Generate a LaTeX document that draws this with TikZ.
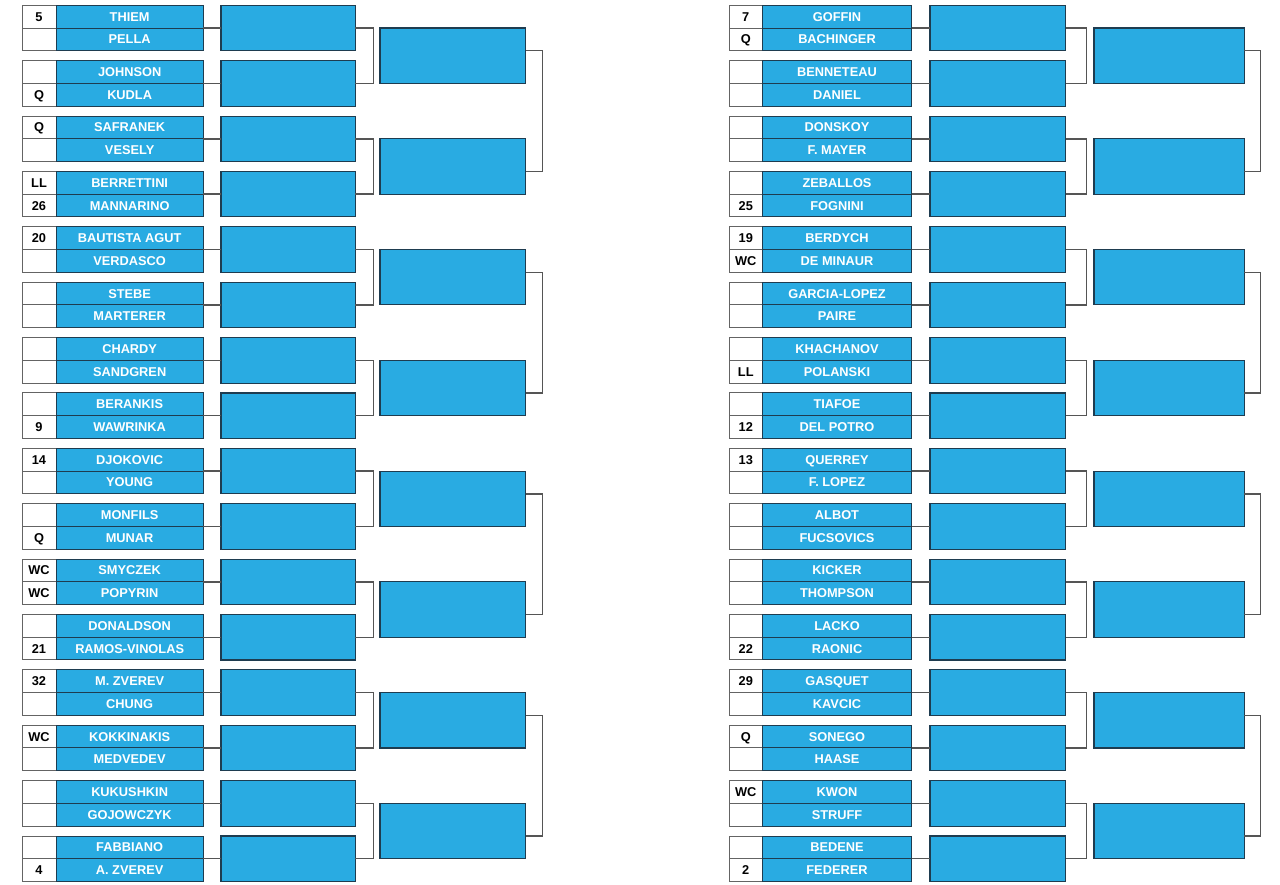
\documentclass[tikz,border=0pt]{standalone}
\usepackage{fontspec}
\setmainfont{Liberation Sans}
\definecolor{boxblue}{RGB}{41,171,226}
\definecolor{boxedge}{RGB}{30,60,80}
\definecolor{seededge}{RGB}{100,100,100}
\definecolor{connline}{RGB}{85,85,85}
\tikzset{
  namebox/.style={draw=boxedge, line width=1pt, fill=boxblue, text=white, font=\bfseries\fontsize{12.8}{12.8}\selectfont, inner sep=0pt, outer sep=0pt, minimum height=22.75pt, text height=9pt, text depth=0pt, anchor=north west},
  seedbox/.style={draw=seededge, line width=1pt, fill=white, text=black, font=\bfseries\fontsize{12.8}{12.8}\selectfont, inner sep=0pt, outer sep=0pt, minimum height=22.75pt, text height=9pt, text depth=0pt, anchor=north west},
  roundbox/.style={draw=boxedge, line width=1.1pt, fill=boxblue, inner sep=0pt, outer sep=0pt, anchor=north west},
  conn/.style={draw=connline, line width=1.4pt}
}
\def\geomL{\def\xs{22}\def\ws{34}\def\xn{56}\def\wn{147.3}\def\xr{221}\def\wr{134.3}}
\def\geomR{\def\xs{729.3}\def\ws{33}\def\xn{762.3}\def\wn{149.4}\def\xr{930}\def\wr{135.7}}
% #1 side, #2 index, #3 seed A, #4 name A, #5 seed B, #6 name B
\newcommand\mymatch[6]{%
  \csname geom#1\endcsname
  \pgfmathsetmacro\ytop{5.3+#2*55.38}%
  \pgfmathsetmacro\ymid{\ytop+22.75}%
  \node[seedbox, minimum width=\ws pt] (#1s#2a) at (\xs,\ytop) {#3};
  \node[seedbox, minimum width=\ws pt] (#1s#2b) at (\xs,\ymid) {#5};
  \node[namebox, minimum width=\wn pt] (#1n#2a) at (\xn,\ytop) {#4};
  \node[namebox, minimum width=\wn pt] (#1n#2b) at (\xn,\ymid) {#6};
  \node[roundbox, minimum width=\wr pt, minimum height=45.5pt] (#1r#2) at (\xr,\ytop) {};
  \draw[conn] (#1n#2a.south east) -- (#1r#2.west |- #1n#2a.south east);
}
\begin{document}
\begin{tikzpicture}[x=1pt,y=-1pt]
\useasboundingbox (0,0) rectangle (1280,885);
% left half
\mymatch{L}{0}{5}{THIEM}{}{PELLA}
\mymatch{L}{1}{}{JOHNSON}{Q}{KUDLA}
\mymatch{L}{2}{Q}{SAFRANEK}{}{VESELY}
\mymatch{L}{3}{LL}{BERRETTINI}{26}{MANNARINO}
\mymatch{L}{4}{20}{BAUTISTA AGUT}{}{VERDASCO}
\mymatch{L}{5}{}{STEBE}{}{MARTERER}
\mymatch{L}{6}{}{CHARDY}{}{SANDGREN}
\mymatch{L}{7}{}{BERANKIS}{9}{WAWRINKA}
\mymatch{L}{8}{14}{DJOKOVIC}{}{YOUNG}
\mymatch{L}{9}{}{MONFILS}{Q}{MUNAR}
\mymatch{L}{10}{WC}{SMYCZEK}{WC}{POPYRIN}
\mymatch{L}{11}{}{DONALDSON}{21}{RAMOS-VINOLAS}
\mymatch{L}{12}{32}{M. ZVEREV}{}{CHUNG}
\mymatch{L}{13}{WC}{KOKKINAKIS}{}{MEDVEDEV}
\mymatch{L}{14}{}{KUKUSHKIN}{}{GOJOWCZYK}
\mymatch{L}{15}{}{FABBIANO}{4}{A. ZVEREV}
% right half
\mymatch{R}{0}{7}{GOFFIN}{Q}{BACHINGER}
\mymatch{R}{1}{}{BENNETEAU}{}{DANIEL}
\mymatch{R}{2}{}{DONSKOY}{}{F. MAYER}
\mymatch{R}{3}{}{ZEBALLOS}{25}{FOGNINI}
\mymatch{R}{4}{19}{BERDYCH}{WC}{DE MINAUR}
\mymatch{R}{5}{}{GARCIA-LOPEZ}{}{PAIRE}
\mymatch{R}{6}{}{KHACHANOV}{LL}{POLANSKI}
\mymatch{R}{7}{}{TIAFOE}{12}{DEL POTRO}
\mymatch{R}{8}{13}{QUERREY}{}{F. LOPEZ}
\mymatch{R}{9}{}{ALBOT}{}{FUCSOVICS}
\mymatch{R}{10}{}{KICKER}{}{THOMPSON}
\mymatch{R}{11}{}{LACKO}{22}{RAONIC}
\mymatch{R}{12}{29}{GASQUET}{}{KAVCIC}
\mymatch{R}{13}{Q}{SONEGO}{}{HAASE}
\mymatch{R}{14}{WC}{KWON}{}{STRUFF}
\mymatch{R}{15}{}{BEDENE}{2}{FEDERER}
% third-round boxes and brackets
\foreach \k [evaluate=\k as \a using int(2*\k), evaluate=\k as \b using int(2*\k+1), evaluate=\k as \yq using 5.3+2*\k*55.38+22.75] in {0,...,7} {
  \node[roundbox, minimum width=145.7pt, minimum height=55.38pt] (Lq\k) at (380,\yq) {};
  \node[roundbox, minimum width=150.3pt, minimum height=55.38pt] (Rq\k) at (1094,\yq) {};
  \draw[conn] (Lr\a.east) -- ++(18.4,0) |- (Lr\b.east);
  \draw[conn] (Rr\a.east) -- ++(21,0) |- (Rr\b.east);
}
\foreach \m [evaluate=\m as \p using int(2*\m), evaluate=\m as \q using int(2*\m+1), evaluate=\m as \u using int(4*\m), evaluate=\m as \v using int(4*\m+3)] in {0,...,3} {
  \draw[conn] (Lq\p.east |- Ls\u b.south) -- ++(16.6,0) |- (Lq\q.east |- Ls\v a.north);
  \draw[conn] (Rq\p.east |- Rs\u b.south) -- ++(16,0) |- (Rq\q.east |- Rs\v a.north);
}
\end{tikzpicture}
\end{document}
